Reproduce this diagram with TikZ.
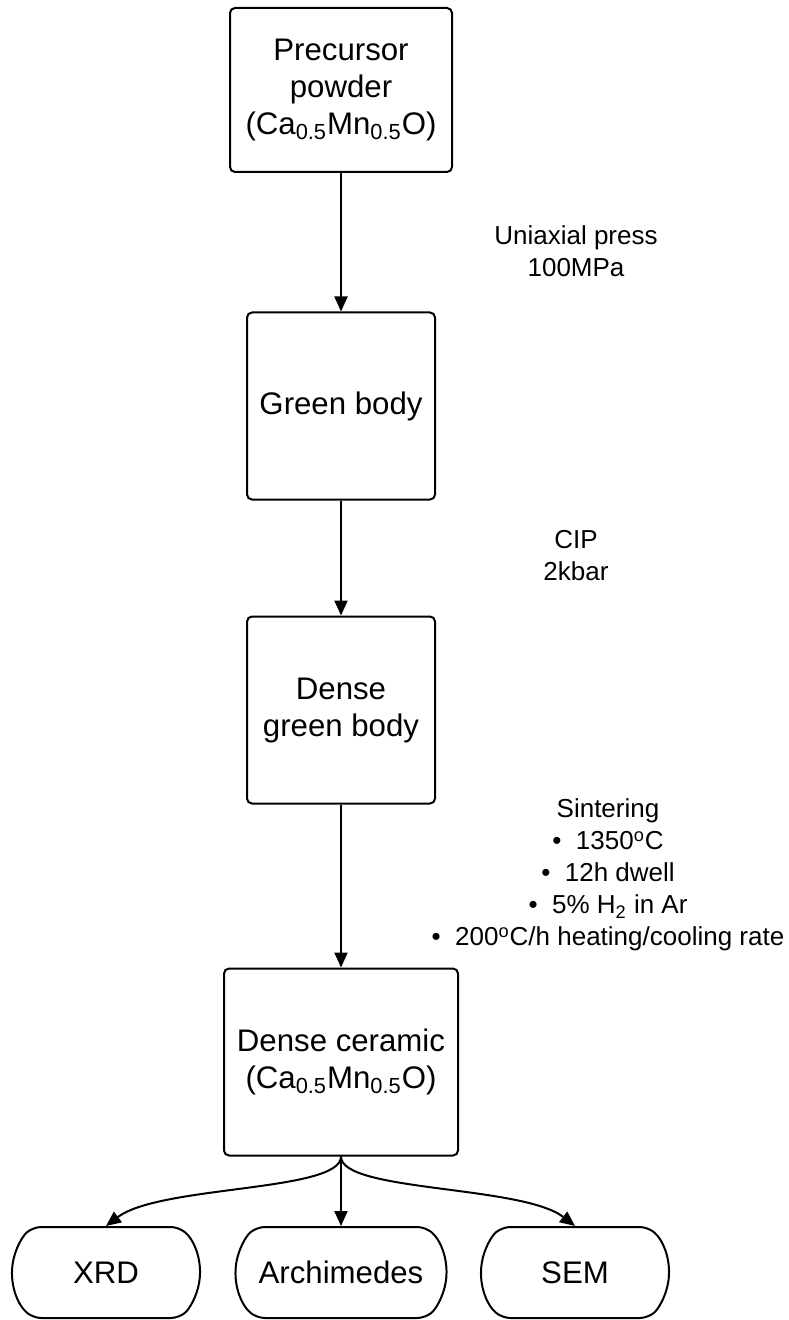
\documentclass[tikz,border=0pt]{standalone}
\usepackage{fontspec}
\setmainfont{Liberation Sans}
\usetikzlibrary{arrows.meta,shapes.misc}
\begin{document}
\begin{tikzpicture}[x=0.5pt,y=-0.5pt,
    box/.style = {draw,line width=1pt,rounded corners=2.5pt,inner sep=0pt,align=center,
                  font=\fontsize{15.6}{18.5}\selectfont},
    term/.style = {draw,line width=1pt,rounded rectangle,rounded rectangle arc length=100,
                   rounded corners=4pt,minimum height=45.5pt,inner sep=0pt,
                   font=\fontsize{15.6}{18}\selectfont},
    note/.style = {align=center,font=\fontsize{13}{16}\selectfont},
    arrow/.style = {line width=1pt,-{Triangle[length=7.5pt,width=6.5pt]}}]
    \useasboundingbox (0,0) rectangle (788,1320);

    \node[box,minimum width=111pt,minimum height=82pt] (precursor) at (341,90)
        {Precursor\\powder\\(Ca\textsubscript{0.5}Mn\textsubscript{0.5}O)};
    \node[box,minimum width=94pt,minimum height=93.5pt] (green) at (341,406) {Green body};
    \node[box,minimum width=94pt,minimum height=93.5pt] (dense) at (341,710) {Dense\\green body};
    \node[box,minimum width=117pt,minimum height=93.5pt] (ceramic) at (341,1062)
        {Dense ceramic\\(Ca\textsubscript{0.5}Mn\textsubscript{0.5}O)};

    \node[term,minimum width=94pt] (xrd) at (106,1272.5) {XRD};
    \node[term,minimum width=105.5pt] (archi) at (341,1272.5) {Archimedes};
    \node[term,minimum width=94pt] (sem) at (575,1272.5) {SEM};

    \node[note] (press) at (576,251) {Uniaxial press\\100MPa};
    \node[note] (cip) at (576,556) {CIP\\2kbar};
    \node[note] (sinter) at (608,875) {Sintering\\
        \textbullet\ \ 1350\textsuperscript{o}C\\
        \textbullet\ \ 12h dwell\\
        \textbullet\ \ 5\% H\textsubscript{2} in Ar\\
        \textbullet\ \ 200\textsuperscript{o}C/h heating/cooling rate};

    \draw[arrow] (precursor) -- (green);
    \draw[arrow] (green) -- (dense);
    \draw[arrow] (dense) -- (ceramic);
    \draw[arrow] (ceramic.south) -- (archi.north);
    \draw[arrow] (ceramic.south) .. controls (341,1192) and (160,1185) .. (xrd.north);
    \draw[arrow] (ceramic.south) .. controls (341,1192) and (522,1185) .. (sem.north);
\end{tikzpicture}
\end{document}
